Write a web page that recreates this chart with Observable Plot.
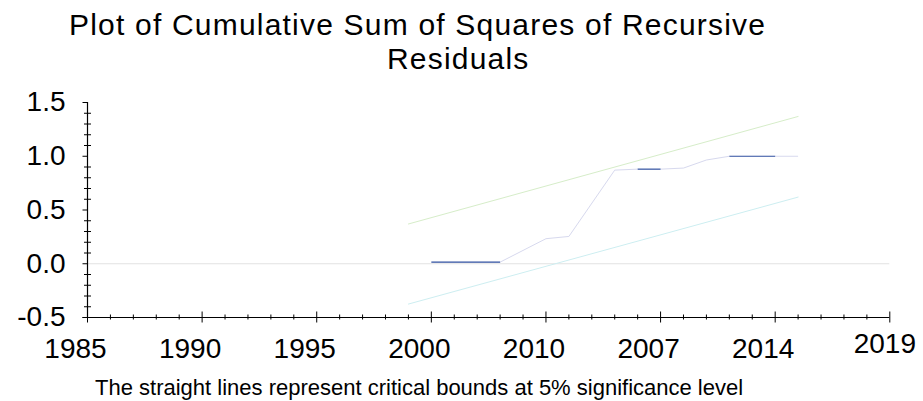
<!DOCTYPE html>
<html><head><meta charset="utf-8">
<script src="https://cdn.jsdelivr.net/npm/d3@7"></script>
<script src="https://cdn.jsdelivr.net/npm/@observablehq/plot@0.6"></script>
<style>
body{margin:0;background:#fff;}
#wrap{position:relative;width:923px;height:401px;overflow:hidden;background:#fff;font-family:"Liberation Sans",Arial,sans-serif;color:#000;}
#title{position:absolute;left:69px;top:8px;white-space:nowrap;font-size:30px;line-height:33.8px;letter-spacing:1.2px;}
#title .l2{display:inline-block;margin-left:318px;}
#chart{position:absolute;left:0;top:85px;}
#cap{position:absolute;left:95px;top:377px;font-size:22px;line-height:22px;white-space:nowrap;}
</style></head>
<body><div id="wrap">
<div id="title">Plot of Cumulative Sum of Squares of Recursive<br><span class="l2">Residuals</span></div>
<div id="chart"></div>
<div id="cap">The straight lines represent critical bounds at 5% significance level</div>
</div>
<script>
// ---- data ----
const xTickLabels = ["1985","1990","1995","2000","2010","2007","2014","2019"];
const yTickValues = [-0.5, 0, 0.5, 1, 1.5];
const cusumIndex  = [15, 18, 20, 21, 23, 24, 25, 26, 27, 28, 30, 31];
const cusumValues = [0.015, 0.015, 0.233, 0.254, 0.871, 0.88, 0.88, 0.89, 0.965, 1.0, 1.0, 1.0];
const boundIndex  = [14, 31];
const upperBound  = [0.37, 1.37];
const lowerBound  = [-0.375, 0.62];

// ---- build tables ----
const segs = cusumIndex.slice(1).map((x2, i) => ({
  i, x1: cusumIndex[i], y1: cusumValues[i], x2, y2: cusumValues[i + 1]
}));
const darkSegs = new Set([0, 5, 9]);
const upper = boundIndex.map((x, i) => ({x, y: upperBound[i]}));
const lower = boundIndex.map((x, i) => ({x, y: lowerBound[i]}));
const nX = (xTickLabels.length - 1) * 5;
const majorX = d3.range(0, nX + 1, 5);
const minorX = d3.range(0, nX + 1).filter(v => v % 5 !== 0);
const minorY = d3.range(-5, 16).map(v => v / 10).filter(v => Math.round(v * 10) % 5 !== 0);

const chart = Plot.plot({
  width: 923,
  height: 280,
  marginTop: 17,
  marginBottom: 48,
  marginLeft: 87,
  marginRight: 33.7,
  style: {fontFamily: "Liberation Sans, Arial, sans-serif", fontSize: "28px", background: "white", color: "black", overflow: "visible"},
  x: {domain: [0, nX], axis: null, label: null},
  y: {domain: [-0.5, 1.5], axis: null, label: null},
  marks: [
    Plot.ruleY([0], {stroke: "#e2e2e2", strokeWidth: 1}),
    Plot.line(upper, {x: "x", y: "y", stroke: "#d6edc9", strokeWidth: 1}),
    Plot.line(lower, {x: "x", y: "y", stroke: "#cdeef1", strokeWidth: 1}),
    Plot.link(segs.filter(d => !darkSegs.has(d.i)), {x1: "x1", y1: "y1", x2: "x2", y2: "y2", stroke: "#d7d9ee", strokeWidth: 1}),
    Plot.link(segs.filter(d => darkSegs.has(d.i)), {x1: "x1", y1: "y1", x2: "x2", y2: "y2", stroke: "#2e4e9f", strokeWidth: 1.2}),
    // axis lines
    Plot.ruleX([0], {y1: -0.5, y2: 1.5, stroke: "black", strokeWidth: 1.2}),
    Plot.ruleY([-0.5], {x1: 0, x2: nX, insetLeft: -4.5, stroke: "black", strokeWidth: 1.2}),
    // y ticks
    Plot.axisY(yTickValues, {tickSize: 4.5, fill: "none", stroke: "black"}),
    Plot.axisY(minorY, {tickSize: 7, dx: 4, fill: "none", stroke: "black"}),
    Plot.axisY(yTickValues, {tickSize: 0, tickPadding: 22, tickFormat: d => d.toFixed(1), fontSize: 28, fill: "black"}),
    // x ticks
    Plot.axisX(majorX, {tickSize: 11, dy: -5.5, fill: "none", stroke: "black"}),
    Plot.axisX(minorX, {tickSize: 5, dy: -2.5, fill: "none", stroke: "black"}),
    Plot.axisX(majorX.slice(0, -1), {tickSize: 0, tickPadding: 21, dx: -12, tickFormat: v => xTickLabels[v / 5], fontSize: 28, fill: "black"}),
    Plot.axisX([nX], {tickSize: 0, tickPadding: 16, dx: -5, tickFormat: v => xTickLabels[v / 5], fontSize: 28, fill: "black"})
  ]
});
document.getElementById("chart").appendChild(chart);
</script>
</body></html>
